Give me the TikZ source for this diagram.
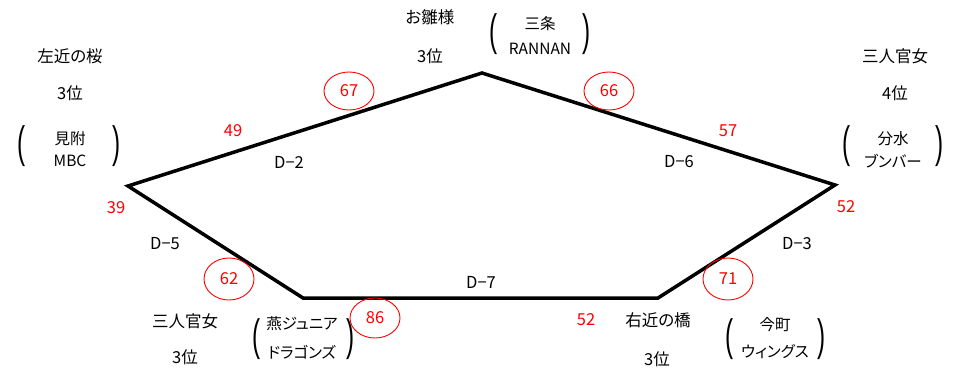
\documentclass[tikz,border=0pt]{standalone}
\usepackage{fontspec}
\setmainfont{Noto Sans CJK JP}[RawFeature=+palt]
\newfontfamily\parfont{Liberation Sans}
\usetikzlibrary{shapes.geometric}
\tikzset{
  lbl/.style={inner sep=0pt, font=\fontsize{16.5}{19}\selectfont},
  sub/.style={inner sep=0pt, font=\fontsize{15.5}{18}\selectfont},
  par/.style={inner sep=0pt, font=\parfont\fontsize{44}{46}\selectfont},
  num/.style={inner sep=0pt, text=red, font=\fontsize{16.5}{19}\selectfont},
  ring/.style={draw=red, line width=0.9pt, ellipse, minimum width=50pt, minimum height=38pt, inner sep=0pt, text=red, font=\fontsize{16.5}{19}\selectfont},
  edge/.style={line width=3.5pt, line join=miter}
}
\newcommand{\thinpar}[1]{\scalebox{0.55}[1]{#1}}
\begin{document}
\begin{tikzpicture}[x=1pt, y=-1pt]
\useasboundingbox (0,0) rectangle (958,367);
% vertices
\coordinate (T) at (482,73);
\coordinate (L) at (128,186);
\coordinate (R) at (835,185);
\coordinate (BL) at (303,298);
\coordinate (BR) at (658,298);
\draw[edge] (L) -- (T) -- (R) -- (BR) -- (BL) -- cycle;

% top-left team
\node[lbl] (n1) at (70,56) {左近の桜};
\node[lbl] (r1) at (70,93) {3位};
\node[par] (p1a) at (22,146) {\thinpar{(}};
\node[par] (p1b) at (117,146) {\thinpar{)}};
\node[sub] (s1a) at (70,139) {見附};
\node[sub] (s1b) at (70,161) {MBC};

% top team
\node[lbl] (n2) at (430,17) {お雛様};
\node[lbl] (r2) at (430,56) {3位};
\node[par] (p2a) at (494,34) {\thinpar{(}};
\node[par] (p2b) at (587,34) {\thinpar{)}};
\node[sub] (s2a) at (540,24) {三条};
\node[sub] (s2b) at (540,49) {RANNAN};

% top-right team
\node[lbl] (n3) at (895,56) {三人官女};
\node[lbl] (r3) at (895,93) {4位};
\node[par] (p3a) at (847,146) {\thinpar{(}};
\node[par] (p3b) at (940,146) {\thinpar{)}};
\node[sub] (s3a) at (893,139) {分水};
\node[sub] (s3b) at (893,161) {ブンバー};

% bottom-left team
\node[lbl] (n4) at (185,321) {三人官女};
\node[lbl] (r4) at (185,357) {3位};
\node[par] (p4a) at (257,339) {\thinpar{(}};
\node[par] (p4b) at (351,339) {\thinpar{)}};
\node[sub] (s4a) at (302,324) {燕ジュニア};
\node[sub] (s4b) at (302,352) {ドラゴンズ};

% bottom-right team
\node[lbl] (n5) at (658,320) {右近の橋};
\node[lbl] (r5) at (657,359) {3位};
\node[par] (p5a) at (730,339) {\thinpar{(}};
\node[par] (p5b) at (822,339) {\thinpar{)}};
\node[sub] (s5a) at (775,325) {今町};
\node[sub] (s5b) at (775,352) {ウィングス};

% match labels
\node[lbl] (d2) at (289,162) {D−2};
\node[lbl] (d6) at (679,162) {D−6};
\node[lbl] (d5) at (165,244) {D−5};
\node[lbl] (d3) at (797,244) {D−3};
\node[lbl] (d7) at (481,282) {D−7};

% scores
\node[num] (c39) at (116,208) {39};
\node[num] (c49) at (233,131) {49};
\node[num] (c57) at (728,131) {57};
\node[num] (c52a) at (846,207) {52};
\node[num] (c52b) at (586,320) {52};
\node[ring] (c67) at (349,91) {67};
\node[ring] (c66) at (609,91) {66};
\node[ring, minimum height=42pt] (c71) at (728,279) {71};
\node[ring, minimum height=40pt] (c86) at (375,318) {86};
\node[ring, minimum height=42pt] (c62) at (229,279) {62};
\end{tikzpicture}
\end{document}
